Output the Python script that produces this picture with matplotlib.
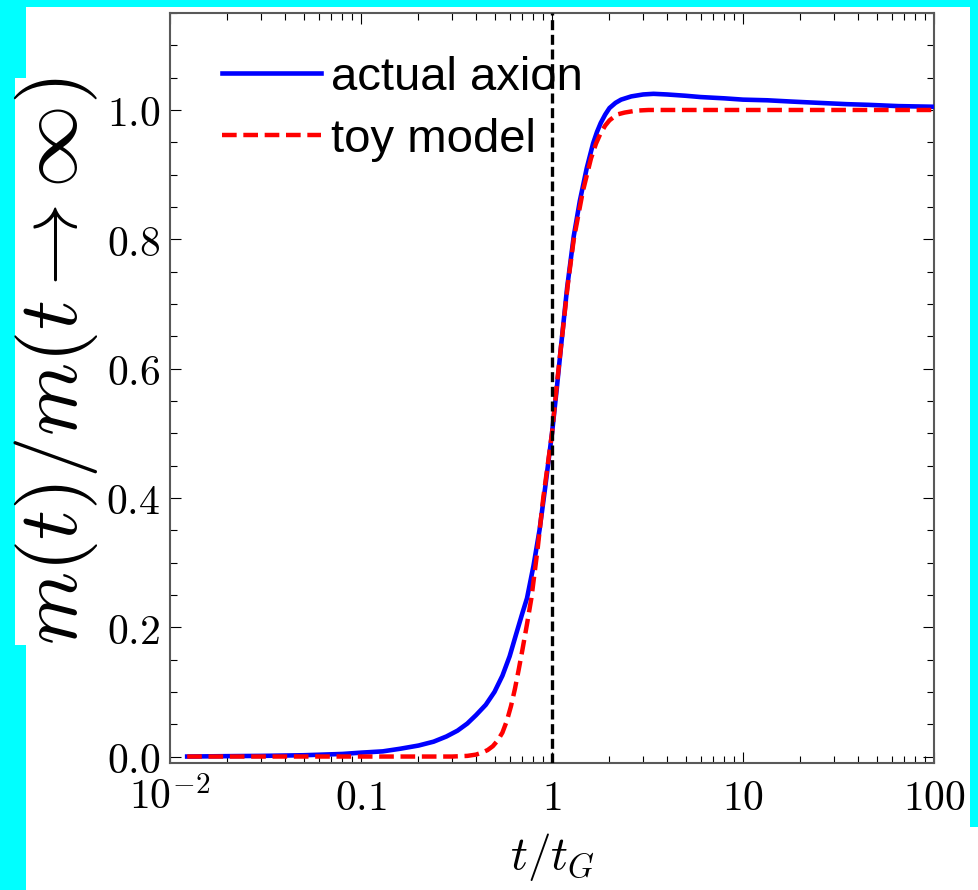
import matplotlib
matplotlib.use("Agg")
import matplotlib.pyplot as plt
from matplotlib.patches import Rectangle
from matplotlib.ticker import MultipleLocator, LogLocator, NullFormatter, FuncFormatter

# values
t_axion = [0.0123, 0.02, 0.03, 0.05, 0.08, 0.1, 0.13, 0.16, 0.2, 0.24, 0.28, 0.32,
           0.36, 0.4, 0.45, 0.5, 0.55, 0.6, 0.65, 0.7, 0.74, 0.8, 0.86, 0.92,
           1.0, 1.06, 1.12, 1.2, 1.3, 1.4, 1.52, 1.64, 1.72, 1.8, 1.9, 2.0, 2.15,
           2.3, 2.6, 3.0, 3.4, 4.0, 5.0, 6.0, 8.0, 10, 13.4, 18, 25, 35, 45, 65, 100]
m_axion = [0.0, 0.0006, 0.001, 0.002, 0.004, 0.006, 0.008, 0.012, 0.017, 0.023,
           0.031, 0.04, 0.051, 0.064, 0.08, 0.1, 0.125, 0.155, 0.19, 0.222, 0.245,
           0.295, 0.35, 0.415, 0.5, 0.57, 0.64, 0.725, 0.805, 0.86, 0.91, 0.948,
           0.966, 0.98, 0.993, 1.003, 1.011, 1.016, 1.021, 1.024, 1.025, 1.024,
           1.022, 1.020, 1.018, 1.016, 1.015, 1.013, 1.011, 1.009, 1.008, 1.006, 1.005]

t_toy = [0.0123, 0.1, 0.3, 0.36, 0.4, 0.43, 0.46, 0.49, 0.52, 0.55, 0.58, 0.61,
         0.64, 0.67, 0.70, 0.74, 0.78, 0.84, 0.9, 1.0, 1.06, 1.13, 1.21, 1.3,
         1.45, 1.6, 1.7, 1.79, 1.9, 2.0, 2.19, 2.4, 2.76, 3.2, 5, 100]
m_toy = [0.0, 0.0, 0.0, 0.001, 0.003, 0.006, 0.01, 0.016, 0.025, 0.037, 0.055,
         0.078, 0.105, 0.135, 0.165, 0.205, 0.245, 0.32, 0.40, 0.5, 0.575, 0.65,
         0.73, 0.80, 0.874, 0.925, 0.948, 0.963, 0.976, 0.984, 0.993, 0.996,
         0.999, 1.0, 1.0, 1.0]

t_gap = 1.0
xtick_vals = [0.01, 0.1, 1, 10, 100]
xtick_labels = [r'$10^{-2}$', r'$0.1$', r'$1$', r'$10$', r'$100$']

plt.rcParams['mathtext.fontset'] = 'cm'

W, H = 979, 890
fig = plt.figure(figsize=(W / 100, H / 100), dpi=100, facecolor='cyan')


def white_box(x0, y0, x1, y1):
    # pixel box (top-down) -> figure fraction
    fig.patches.append(Rectangle((x0 / W, 1 - y1 / H), (x1 - x0) / W, (y1 - y0) / H,
                                 transform=fig.transFigure, facecolor='white',
                                 edgecolor='none', zorder=-10))


white_box(26, 7, 970, 890)
white_box(970, 827, 979, 890)
white_box(15, 78, 26, 645)

ax = fig.add_axes([170 / W, 1 - 763 / H, (934 - 170) / W, (763 - 13) / H])
ax.set_facecolor('none')

ax.plot(t_axion, m_axion, color='blue', lw=3.3, label='actual axion', zorder=3)
ax.plot(t_toy, m_toy, color='red', lw=3.2, dashes=(3.3, 1.5), label='toy model', zorder=4)
ax.axvline(t_gap, color='black', lw=2.4, dashes=(3, 1.4), zorder=5)

ax.set_xscale('log')
ax.set_xlim(0.01, 100)
ax.set_ylim(-0.01, 1.15)

ax.set_xticks(xtick_vals)
ax.set_xticklabels(xtick_labels)
ax.xaxis.set_minor_locator(LogLocator(base=10, subs=range(2, 10)))
ax.xaxis.set_minor_formatter(NullFormatter())
ax.yaxis.set_major_locator(MultipleLocator(0.2))
ax.yaxis.set_minor_locator(MultipleLocator(0.05))
ax.yaxis.set_major_formatter(FuncFormatter(lambda v, p: r'$%.1f$' % v))

ax.tick_params(which='both', direction='in', top=True, right=True, color='black', width=0.8)
ax.tick_params(which='major', length=8, labelsize=30)
ax.tick_params(which='minor', length=5)
ax.tick_params(axis='x', which='major', pad=10)
ax.tick_params(axis='y', which='major', pad=7)
for s in ax.spines.values():
    s.set_color('0.35')
    s.set_linewidth(1.5)

ax.set_ylabel(r'$m(t)/m(t\rightarrow\infty)$', fontsize=60)
ax.yaxis.set_label_coords((100 - 170) / 764, (763 - 361) / 750)
ax.set_xlabel(r'$t/t_G$', fontsize=34)
ax.xaxis.set_label_coords(0.5, (763 - 831) / 750)

ax.legend(loc='upper left', bbox_to_anchor=(0.068, 0.943), frameon=False,
          borderpad=0, borderaxespad=0, handlelength=2.1, handletextpad=0.2,
          labelspacing=0.38, prop={'family': 'Liberation Sans', 'size': 34})

fig.savefig('out.png', dpi=100, facecolor=fig.get_facecolor())
